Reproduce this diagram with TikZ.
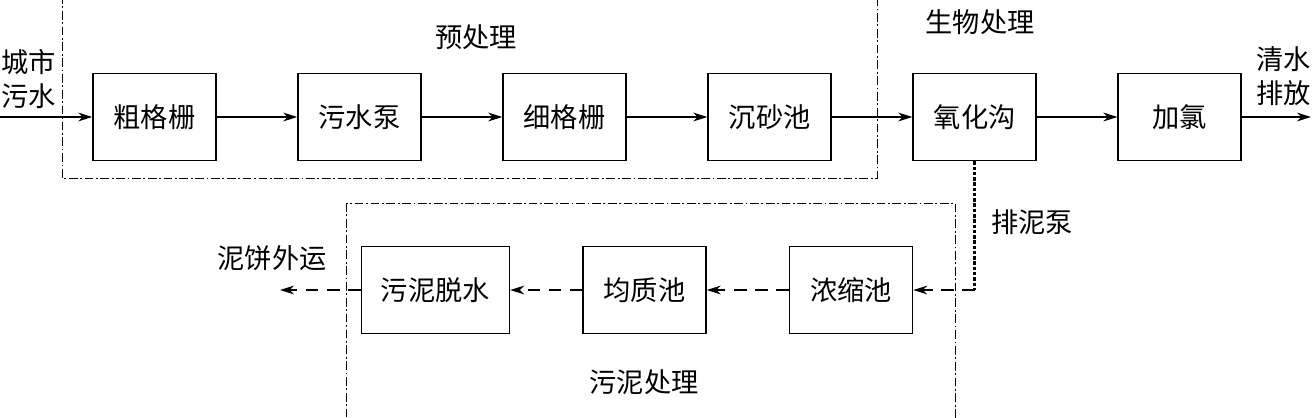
\documentclass[tikz,border=0pt]{standalone}
\usepackage{fontspec}
\newfontfamily\cjk{Noto Sans CJK SC}
\usetikzlibrary{arrows.meta,positioning}
\tikzset{
  box/.style={rectangle, draw, line width=0.9pt, minimum width=2.46cm,
              minimum height=1.74cm, inner sep=2pt, font=\cjk\fontsize{15.5}{19}\selectfont},
  flow/.style={-{Stealth[length=8pt, width=5pt, inset=2.5pt]}, line width=0.8pt},
  sludgeflow/.style={flow, dash pattern=on 7pt off 5pt},
  pumpline/.style={line width=1.6pt, dash pattern=on 2pt off 1pt},
  zone/.style={line width=0.5pt, dash pattern=on 5pt off 1.5pt on 1pt off 1.5pt},
  tag/.style={font=\cjk\fontsize{15.5}{19}\selectfont, align=left, inner sep=0pt},
}
\begin{document}
\begin{tikzpicture}[x=0.02cm, y=-0.02cm, node distance=1.61cm]
  \useasboundingbox (0,0) rectangle (1312,417);
  % water line
  \node[box] (coarse) at (154.5,117) {粗格栅};
  \node[box, right=of coarse] (pump) {污水泵};
  \node[box, right=of pump] (fine) {细格栅};
  \node[box, right=of fine] (grit) {沉砂池};
  \node[box, right=of grit] (oxid) {氧化沟};
  \node[box, right=of oxid] (chlor) {加氯};
  \coordinate (inlet) at (0,117);
  \coordinate (outlet) at (1311,117);
  \draw[flow] (inlet) -- (coarse);
  \draw[flow] (coarse) -- (pump);
  \draw[flow] (pump) -- (fine);
  \draw[flow] (fine) -- (grit);
  \draw[flow] (grit) -- (oxid);
  \draw[flow] (oxid) -- (chlor);
  \draw[flow] (chlor) -- (outlet);
  % sludge line
  \node[box] (thicken) at (851,290) {浓缩池};
  \node[box, left=1.64cm of thicken] (homog) {均质池};
  \node[box, minimum width=2.96cm, left=1.44cm of homog] (dewater) {污泥脱水};
  \coordinate (cake) at (280,290);
  \coordinate (bend) at (oxid.south |- thicken.east);
  \draw[pumpline] (oxid.south) -- (bend);
  \draw[sludgeflow] (bend) -- (thicken);
  \draw[sludgeflow] (thicken) -- (homog);
  \draw[sludgeflow] (homog) -- (dewater);
  \draw[sludgeflow] (dewater) -- (cake);
  % zones
  \draw[zone] (62,-5) rectangle (877,178);
  \draw[zone] (346,203) rectangle (955,425);
  % labels
  \node[tag, anchor=west] (intag) at (1,79) {城市\\污水};
  \node[tag, anchor=east] (outtag) at (1311,76) {清水\\排放};
  \node[tag] (pretag) at (476,37) {预处理};
  \node[tag] (biotag) at (980,22) {生物处理};
  \node[tag] (pumptag) at (1032,222) {排泥泵};
  \node[tag] (caketag) at (272,258) {泥饼外运};
  \node[tag] (sludgetag) at (644,382) {污泥处理};
\end{tikzpicture}
\end{document}
